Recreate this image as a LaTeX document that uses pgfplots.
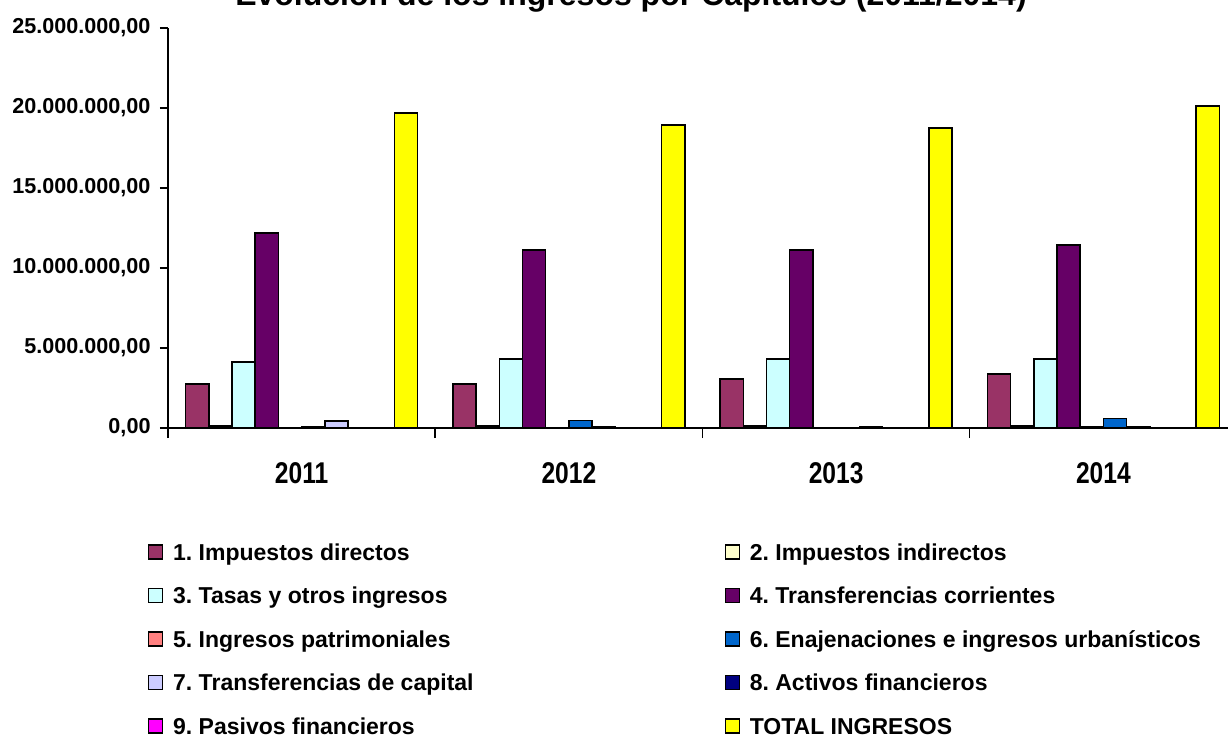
\documentclass[border=0pt]{standalone}
\usepackage{fontspec}
\setmainfont{Liberation Sans}
\newfontfamily\xfont[FakeStretch=0.82]{Liberation Sans}
\usepackage{pgfplots}
\usepackage{pgfplotstable}
\pgfplotsset{compat=1.18}
\frenchspacing

\definecolor{c1}{HTML}{993366}
\definecolor{c2}{HTML}{FFFFCC}
\definecolor{c3}{HTML}{CCFFFF}
\definecolor{c4}{HTML}{660066}
\definecolor{c5}{HTML}{FF8080}
\definecolor{c6}{HTML}{0066CC}
\definecolor{c7}{HTML}{CCCCFF}
\definecolor{c8}{HTML}{000080}
\definecolor{c9}{HTML}{FF00FF}
\definecolor{c10}{HTML}{FFFF00}

% ingresos por capitulo, x = 0..3 -> 2011..2014
\pgfplotstableread{
x d1      d2     d3      d4       d5     d6     d7     d8 d9 tot
0 2750000 120000 4120000 12190000 0      100000 450000 0  0  19690000
1 2750000 120000 4300000 11130000 0      480000 100000 0  0  18940000
2 3060000 120000 4300000 11120000 0      0      100000 0  0  18750000
3 3380000 120000 4300000 11440000 100000 580000 100000 0  0  20120000
}\ingresos

\begin{document}
\begin{tikzpicture}
\begin{axis}[
    scale only axis,
    width=534.5pt, height=200pt,
    ybar=0pt, bar width=0.0868,
    xmin=-0.5, xmax=3.5,
    ymin=0, ymax=25000000,
    ytick={0,5000000,10000000,15000000,20000000,25000000},
    scaled y ticks=false,
    yticklabel={\pgfmathprintnumber[fixed,fixed zerofill,precision=2,1000 sep={.},use comma,assume math mode=true]{\tick}},
    yticklabel style={font=\fontsize{10.8}{12}\selectfont\bfseries, xshift=-1.2pt},
    xtick={0,1,2,3},
    xticklabels={2011,2012,2013,2014},
    xticklabel style={font=\xfont\bfseries\fontsize{15}{18}\selectfont, yshift=-9.5pt},
    minor xtick={-0.5,0.5,1.5,2.5,3.5},
    major x tick style={draw=none},
    major tick length=4pt,
    minor tick length=5pt,
    tick align=outside,
    tick style={black, line width=0.75pt},
    axis x line*=bottom,
    axis y line*=left,
    axis line style={-, black, line width=0.75pt},
    title={Evolución de los ingresos por Capítulos (2011/2014)},
    title style={at={(axis description cs:0.4331,1.0275)}, anchor=base, font=\fontsize{16}{19}\selectfont\bfseries},
    legend columns=2,
    legend cell align=left,
    legend image code/.code={\draw[#1, line width=0.6pt] (0pt,-2.5pt) rectangle (7pt,4.5pt);},
    legend style={
        at={(axis description cs:-0.0187,-0.2825)}, anchor=north west,
        draw=none, fill=none, inner sep=0pt, outer sep=0pt,
        font=\fontsize{11.5}{13}\selectfont\bfseries,
        row sep=8.75pt, column sep=4pt,
        nodes={inner sep=1pt, text height=8.5pt, text depth=2.5pt},
        /tikz/every even column/.append style={column sep=124.5pt}
    },
]
\addplot[fill=c1, draw=black, line width=0.75pt] table[x=x, y=d1] {\ingresos};
\addlegendentry{1. Impuestos directos}
\addplot[fill=c2, draw=black, line width=0.75pt] table[x=x, y=d2] {\ingresos};
\addlegendentry{2. Impuestos indirectos}
\addplot[fill=c3, draw=black, line width=0.75pt] table[x=x, y=d3] {\ingresos};
\addlegendentry{3. Tasas y otros ingresos}
\addplot[fill=c4, draw=black, line width=0.75pt] table[x=x, y=d4] {\ingresos};
\addlegendentry{4. Transferencias corrientes}
\addplot[fill=c5, draw=black, line width=0.75pt] table[x=x, y=d5] {\ingresos};
\addlegendentry{5. Ingresos patrimoniales}
\addplot[fill=c6, draw=black, line width=0.75pt] table[x=x, y=d6] {\ingresos};
\addlegendentry{6. Enajenaciones e ingresos urbanísticos}
\addplot[fill=c7, draw=black, line width=0.75pt] table[x=x, y=d7] {\ingresos};
\addlegendentry{7. Transferencias de capital}
\addplot[fill=c8, draw=black, line width=0.75pt] table[x=x, y=d8] {\ingresos};
\addlegendentry{8. Activos financieros}
\addplot[fill=c9, draw=black, line width=0.75pt] table[x=x, y=d9] {\ingresos};
\addlegendentry{9. Pasivos financieros}
\addplot[fill=c10, draw=black, line width=0.75pt] table[x=x, y=tot] {\ingresos};
\addlegendentry{TOTAL INGRESOS}
\end{axis}
\pgfresetboundingbox
\useasboundingbox (-84pt,-155pt) rectangle (530pt,214pt);
\end{tikzpicture}
\end{document}
